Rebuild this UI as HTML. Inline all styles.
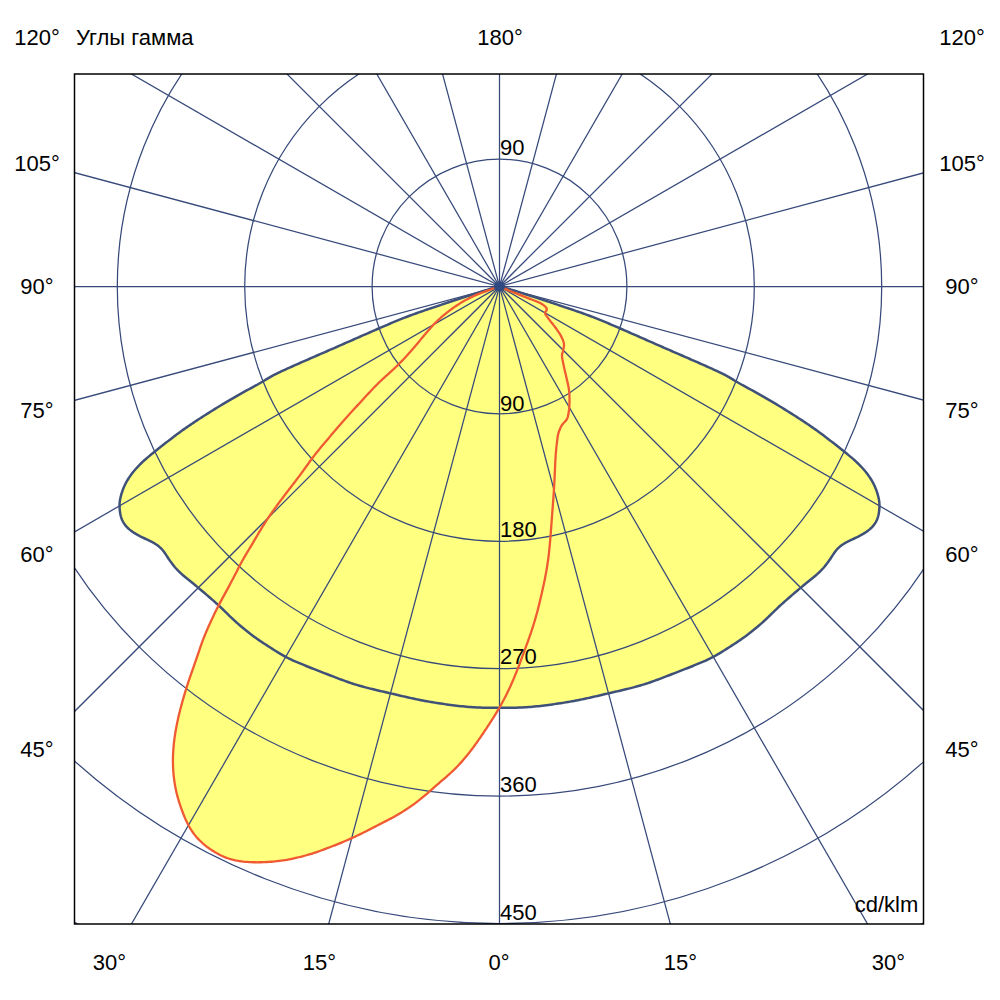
<!DOCTYPE html>
<html><head><meta charset="utf-8"><style>
html,body{margin:0;padding:0;background:#fff;}
svg{display:block;}
text{font-family:"Liberation Sans",sans-serif;font-size:22px;fill:#000;}
</style></head><body>
<svg width="1000" height="1000" viewBox="0 0 1000 1000">
<defs><clipPath id="fr"><rect x="74.5" y="74.0" width="849.0" height="850.0"/></clipPath></defs>
<rect width="1000" height="1000" fill="#fff"/>
<g clip-path="url(#fr)">
<path d="M499.50,286.50L497.50,286.54L495.57,287.04L493.68,287.71L491.79,288.37L489.89,288.99L487.99,289.60L486.08,290.21L484.17,290.81L482.27,291.41L480.36,292.02L478.45,292.63L476.55,293.24L474.64,293.85L472.74,294.46L470.83,295.07L468.93,295.69L467.03,296.30L465.12,296.92L463.22,297.53L461.32,298.15L459.41,298.77L457.51,299.39L455.61,300.01L453.71,300.64L451.81,301.26L449.91,301.89L448.01,302.52L446.11,303.15L444.21,303.78L442.32,304.42L440.42,305.06L438.53,305.70L436.63,306.34L434.73,306.97L432.84,307.61L430.94,308.25L429.04,308.88L427.15,309.52L425.25,310.16L423.36,310.81L421.47,311.46L419.58,312.12L417.69,312.78L415.81,313.46L413.93,314.14L412.05,314.83L410.18,315.54L408.31,316.25L406.44,316.96L404.58,317.69L402.72,318.42L400.86,319.17L399.00,319.91L397.15,320.67L395.30,321.43L393.45,322.20L391.61,322.97L389.76,323.75L387.92,324.53L386.08,325.31L384.24,326.10L382.40,326.89L380.57,327.68L378.73,328.48L376.90,329.27L375.06,330.07L373.23,330.87L371.40,331.68L369.56,332.48L367.73,333.28L365.90,334.09L364.07,334.90L362.24,335.70L360.41,336.51L358.58,337.32L356.75,338.13L354.92,338.93L353.09,339.74L351.26,340.55L349.43,341.36L347.60,342.16L345.76,342.97L343.93,343.77L342.10,344.58L340.27,345.38L338.44,346.18L336.60,346.98L334.77,347.78L332.94,348.58L331.10,349.38L329.27,350.18L327.43,350.98L325.60,351.78L323.76,352.58L321.93,353.38L320.10,354.18L318.26,354.98L316.43,355.77L314.59,356.57L312.76,357.38L310.93,358.18L309.10,358.98L307.26,359.78L305.43,360.58L303.60,361.39L301.77,362.19L299.94,363.00L298.11,363.81L296.28,364.62L294.45,365.43L292.62,366.25L290.80,367.07L288.97,367.89L287.15,368.71L285.33,369.54L283.51,370.38L281.70,371.22L279.89,372.07L278.08,372.93L276.29,373.81L274.50,374.71L272.73,375.64L270.97,376.60L269.24,377.59L267.52,378.62L265.82,379.67L264.12,380.72L262.41,381.76L260.68,382.77L258.95,383.76L257.20,384.73L255.44,385.69L253.69,386.65L251.93,387.61L250.17,388.56L248.41,389.52L246.65,390.47L244.90,391.43L243.15,392.40L241.40,393.37L239.65,394.34L237.91,395.32L236.17,396.31L234.43,397.31L232.70,398.31L230.98,399.32L229.25,400.34L227.53,401.35L225.81,402.38L224.09,403.40L222.38,404.43L220.67,405.47L218.96,406.51L217.25,407.55L215.55,408.60L213.85,409.66L212.15,410.71L210.45,411.78L208.76,412.84L207.07,413.91L205.38,414.98L203.69,416.06L202.01,417.14L200.33,418.23L198.65,419.32L196.98,420.41L195.30,421.51L193.64,422.61L191.97,423.72L190.31,424.84L188.66,425.96L187.01,427.10L185.37,428.24L183.73,429.39L182.10,430.56L180.48,431.73L178.87,432.91L177.26,434.10L175.66,435.30L174.07,436.51L172.47,437.72L170.88,438.93L169.29,440.15L167.71,441.37L166.13,442.60L164.55,443.83L162.98,445.07L161.41,446.31L159.84,447.55L158.28,448.80L156.72,450.05L155.16,451.30L153.60,452.56L152.05,453.82L150.50,455.09L148.96,456.36L147.42,457.64L145.90,458.93L144.39,460.25L142.92,461.60L141.48,462.99L140.06,464.40L138.66,465.83L137.29,467.28L135.94,468.76L134.63,470.27L133.35,471.80L132.11,473.37L130.91,474.97L129.76,476.61L128.65,478.27L127.59,479.97L126.58,481.69L125.63,483.45L124.74,485.24L123.92,487.06L123.16,488.90L122.47,490.78L121.83,492.67L121.25,494.59L120.74,496.52L120.29,498.46L119.93,500.42L119.68,502.40L119.55,504.39L119.54,506.38L119.63,508.37L119.80,510.36L120.05,512.34L120.39,514.31L120.83,516.25L121.40,518.15L122.12,520.00L123.01,521.78L124.04,523.47L125.20,525.08L126.48,526.61L127.86,528.04L129.33,529.39L130.88,530.64L132.50,531.80L134.17,532.90L135.88,533.93L137.61,534.92L139.38,535.86L141.16,536.76L142.96,537.63L144.77,538.50L146.57,539.36L148.38,540.22L150.18,541.09L151.96,541.99L153.72,542.94L155.43,543.97L157.08,545.09L158.66,546.29L160.18,547.59L161.60,548.98L162.92,550.47L164.14,552.04L165.28,553.68L166.37,555.35L167.46,557.02L168.57,558.69L169.70,560.34L170.86,561.97L172.05,563.58L173.27,565.16L174.53,566.71L175.83,568.23L177.18,569.70L178.57,571.13L180.01,572.52L181.49,573.87L182.99,575.19L184.52,576.48L186.06,577.76L187.61,579.02L189.16,580.28L190.72,581.54L192.27,582.80L193.82,584.06L195.37,585.33L196.91,586.60L198.45,587.89L199.98,589.17L201.51,590.47L203.03,591.76L204.55,593.06L206.08,594.36L207.59,595.66L209.11,596.97L210.62,598.28L212.13,599.59L213.63,600.92L215.13,602.24L216.62,603.58L218.10,604.92L219.57,606.28L221.02,607.65L222.47,609.03L223.91,610.42L225.34,611.82L226.77,613.22L228.20,614.62L229.63,616.02L231.07,617.40L232.52,618.78L233.99,620.14L235.47,621.49L236.96,622.82L238.46,624.15L239.97,625.46L241.49,626.76L243.02,628.04L244.57,629.32L246.12,630.57L247.69,631.82L249.26,633.05L250.85,634.26L252.46,635.46L254.07,636.65L255.69,637.81L257.33,638.97L258.97,640.11L260.62,641.23L262.28,642.35L263.95,643.46L265.62,644.56L267.29,645.66L268.97,646.74L270.66,647.82L272.34,648.90L274.04,649.97L275.73,651.02L277.44,652.07L279.15,653.11L280.87,654.13L282.60,655.13L284.34,656.11L286.10,657.07L287.87,657.99L289.66,658.88L291.47,659.74L293.30,660.56L295.13,661.35L296.97,662.13L298.82,662.91L300.66,663.68L302.51,664.45L304.36,665.21L306.21,665.97L308.06,666.73L309.92,667.48L311.77,668.22L313.63,668.96L315.49,669.69L317.36,670.42L319.22,671.15L321.09,671.87L322.96,672.58L324.82,673.30L326.69,674.02L328.56,674.75L330.42,675.47L332.29,676.19L334.15,676.91L336.02,677.63L337.89,678.34L339.76,679.05L341.63,679.75L343.51,680.44L345.39,681.12L347.28,681.79L349.17,682.45L351.06,683.09L352.96,683.72L354.87,684.32L356.78,684.91L358.70,685.48L360.62,686.04L362.55,686.57L364.48,687.10L366.41,687.61L368.35,688.10L370.29,688.59L372.23,689.07L374.18,689.54L376.12,690.00L378.07,690.46L380.02,690.91L381.97,691.37L383.92,691.82L385.87,692.27L387.82,692.72L389.76,693.17L391.71,693.62L393.66,694.08L395.61,694.54L397.55,695.00L399.50,695.46L401.45,695.92L403.40,696.37L405.35,696.82L407.30,697.27L409.25,697.71L411.20,698.14L413.16,698.57L415.11,698.99L417.07,699.40L419.03,699.80L420.99,700.18L422.96,700.56L424.93,700.92L426.89,701.28L428.87,701.62L430.84,701.96L432.81,702.29L434.79,702.61L436.76,702.92L438.74,703.23L440.71,703.54L442.69,703.83L444.67,704.12L446.65,704.40L448.64,704.68L450.62,704.94L452.60,705.20L454.59,705.45L456.57,705.69L458.56,705.92L460.55,706.14L462.54,706.35L464.53,706.55L466.52,706.73L468.51,706.89L470.51,707.05L472.50,707.18L474.50,707.30L476.50,707.41L478.50,707.49L480.50,707.57L482.50,707.63L484.50,707.68L486.50,707.72L488.50,707.75L490.50,707.77L492.50,707.78L494.50,707.79L496.50,707.80L498.50,707.80L500.50,707.80L502.50,707.80L504.50,707.79L506.50,707.78L508.50,707.77L510.50,707.75L512.50,707.72L514.50,707.68L516.50,707.63L518.50,707.57L520.50,707.49L522.50,707.41L524.50,707.30L526.50,707.18L528.49,707.05L530.49,706.89L532.48,706.73L534.47,706.55L536.46,706.35L538.45,706.14L540.44,705.92L542.43,705.69L544.41,705.45L546.40,705.20L548.38,704.94L550.36,704.68L552.35,704.40L554.33,704.12L556.31,703.83L558.29,703.54L560.26,703.23L562.24,702.92L564.21,702.61L566.19,702.29L568.16,701.96L570.13,701.62L572.11,701.28L574.07,700.92L576.04,700.56L578.01,700.18L579.97,699.80L581.93,699.40L583.89,698.99L585.84,698.57L587.80,698.14L589.75,697.71L591.70,697.27L593.65,696.82L595.60,696.37L597.55,695.92L599.50,695.46L601.45,695.00L603.39,694.54L605.34,694.08L607.29,693.62L609.24,693.17L611.18,692.72L613.13,692.27L615.08,691.82L617.03,691.37L618.98,690.91L620.93,690.46L622.88,690.00L624.82,689.54L626.77,689.07L628.71,688.59L630.65,688.10L632.59,687.61L634.52,687.10L636.45,686.57L638.38,686.04L640.30,685.48L642.22,684.91L644.13,684.32L646.04,683.72L647.94,683.09L649.83,682.45L651.72,681.79L653.61,681.12L655.49,680.44L657.37,679.75L659.24,679.05L661.11,678.34L662.98,677.63L664.85,676.91L666.71,676.19L668.58,675.47L670.44,674.75L672.31,674.02L674.18,673.30L676.04,672.58L677.91,671.87L679.78,671.15L681.64,670.42L683.51,669.69L685.37,668.96L687.23,668.22L689.08,667.48L690.94,666.73L692.79,665.97L694.64,665.21L696.49,664.45L698.34,663.68L700.18,662.91L702.03,662.13L703.87,661.35L705.70,660.56L707.53,659.74L709.34,658.88L711.13,657.99L712.90,657.07L714.66,656.11L716.40,655.13L718.13,654.13L719.85,653.11L721.56,652.07L723.27,651.02L724.96,649.97L726.66,648.90L728.34,647.82L730.03,646.74L731.71,645.66L733.38,644.56L735.05,643.46L736.72,642.35L738.38,641.23L740.03,640.11L741.67,638.97L743.31,637.81L744.93,636.65L746.54,635.46L748.15,634.26L749.74,633.05L751.31,631.82L752.88,630.57L754.43,629.32L755.98,628.04L757.51,626.76L759.03,625.46L760.54,624.15L762.04,622.82L763.53,621.49L765.01,620.14L766.48,618.78L767.93,617.40L769.37,616.02L770.80,614.62L772.23,613.22L773.66,611.82L775.09,610.42L776.53,609.03L777.98,607.65L779.43,606.28L780.90,604.92L782.38,603.58L783.87,602.24L785.37,600.92L786.87,599.59L788.38,598.28L789.89,596.97L791.41,595.66L792.92,594.36L794.45,593.06L795.97,591.76L797.49,590.47L799.02,589.17L800.55,587.89L802.09,586.60L803.63,585.33L805.18,584.06L806.73,582.80L808.28,581.54L809.84,580.28L811.39,579.02L812.94,577.76L814.48,576.48L816.01,575.19L817.51,573.87L818.99,572.52L820.43,571.13L821.82,569.70L823.17,568.23L824.47,566.71L825.73,565.16L826.95,563.58L828.14,561.97L829.30,560.34L830.43,558.69L831.54,557.02L832.63,555.35L833.72,553.68L834.86,552.04L836.08,550.47L837.40,548.98L838.82,547.59L840.34,546.29L841.92,545.09L843.57,543.97L845.28,542.94L847.04,541.99L848.82,541.09L850.62,540.22L852.43,539.36L854.23,538.50L856.04,537.63L857.84,536.76L859.62,535.86L861.39,534.92L863.12,533.93L864.83,532.90L866.50,531.80L868.12,530.64L869.67,529.39L871.14,528.04L872.52,526.61L873.80,525.08L874.96,523.47L875.99,521.78L876.88,520.00L877.60,518.15L878.17,516.25L878.61,514.31L878.95,512.34L879.20,510.36L879.37,508.37L879.46,506.38L879.45,504.39L879.32,502.40L879.07,500.42L878.71,498.46L878.26,496.52L877.75,494.59L877.17,492.67L876.53,490.78L875.84,488.90L875.08,487.06L874.26,485.24L873.37,483.45L872.42,481.69L871.41,479.97L870.35,478.27L869.24,476.61L868.09,474.97L866.89,473.37L865.65,471.80L864.37,470.27L863.06,468.76L861.71,467.28L860.34,465.83L858.94,464.40L857.52,462.99L856.08,461.60L854.61,460.25L853.10,458.93L851.58,457.64L850.04,456.36L848.50,455.09L846.95,453.82L845.40,452.56L843.84,451.30L842.28,450.05L840.72,448.80L839.16,447.55L837.59,446.31L836.02,445.07L834.45,443.83L832.87,442.60L831.29,441.37L829.71,440.15L828.12,438.93L826.53,437.72L824.93,436.51L823.34,435.30L821.74,434.10L820.13,432.91L818.52,431.73L816.90,430.56L815.27,429.39L813.63,428.24L811.99,427.10L810.34,425.96L808.69,424.84L807.03,423.72L805.36,422.61L803.70,421.51L802.02,420.41L800.35,419.32L798.67,418.23L796.99,417.14L795.31,416.06L793.62,414.98L791.93,413.91L790.24,412.84L788.55,411.78L786.85,410.71L785.15,409.66L783.45,408.60L781.75,407.55L780.04,406.51L778.33,405.47L776.62,404.43L774.91,403.40L773.19,402.38L771.47,401.35L769.75,400.34L768.02,399.32L766.30,398.31L764.57,397.31L762.83,396.31L761.09,395.32L759.35,394.34L757.60,393.37L755.85,392.40L754.10,391.43L752.35,390.47L750.59,389.52L748.83,388.56L747.07,387.61L745.31,386.65L743.56,385.69L741.80,384.73L740.05,383.76L738.32,382.77L736.59,381.76L734.88,380.72L733.18,379.67L731.48,378.62L729.76,377.59L728.03,376.60L726.27,375.64L724.50,374.71L722.71,373.81L720.92,372.93L719.11,372.07L717.30,371.22L715.49,370.38L713.67,369.54L711.85,368.71L710.03,367.89L708.20,367.07L706.38,366.25L704.55,365.43L702.72,364.62L700.89,363.81L699.06,363.00L697.23,362.19L695.40,361.39L693.57,360.58L691.74,359.78L689.90,358.98L688.07,358.18L686.24,357.38L684.41,356.57L682.57,355.77L680.74,354.98L678.90,354.18L677.07,353.38L675.24,352.58L673.40,351.78L671.57,350.98L669.73,350.18L667.90,349.38L666.06,348.58L664.23,347.78L662.40,346.98L660.56,346.18L658.73,345.38L656.90,344.58L655.07,343.77L653.24,342.97L651.40,342.16L649.57,341.36L647.74,340.55L645.91,339.74L644.08,338.93L642.25,338.13L640.42,337.32L638.59,336.51L636.76,335.70L634.93,334.90L633.10,334.09L631.27,333.28L629.44,332.48L627.60,331.68L625.77,330.87L623.94,330.07L622.10,329.27L620.27,328.48L618.43,327.68L616.60,326.89L614.76,326.10L612.92,325.31L611.08,324.53L609.24,323.75L607.39,322.97L605.55,322.20L603.70,321.43L601.85,320.67L600.00,319.91L598.14,319.17L596.28,318.42L594.42,317.69L592.56,316.96L590.69,316.25L588.82,315.54L586.95,314.83L585.07,314.14L583.19,313.46L581.31,312.78L579.42,312.12L577.53,311.46L575.64,310.81L573.75,310.16L571.85,309.52L569.96,308.88L568.06,308.25L566.16,307.61L564.27,306.97L562.37,306.34L560.47,305.70L558.58,305.06L556.68,304.42L554.79,303.78L552.89,303.15L550.99,302.52L549.09,301.89L547.19,301.26L545.29,300.64L543.39,300.01L541.49,299.39L539.59,298.77L537.68,298.15L535.78,297.53L533.88,296.92L531.97,296.30L530.07,295.69L528.17,295.07L526.26,294.46L524.36,293.85L522.45,293.24L520.55,292.63L518.64,292.02L516.73,291.41L514.83,290.81L512.92,290.21L511.01,289.60L509.11,288.99L507.21,288.37L505.32,287.71L503.43,287.04L501.50,286.54Z" fill="#FFFF80" stroke="none"/>
<path d="M499.50,286.50L497.56,286.97L495.65,287.58L493.77,288.26L491.90,288.98L490.04,289.70L488.17,290.42L486.30,291.12L484.42,291.80L482.54,292.48L480.66,293.17L478.80,293.89L476.95,294.64L475.11,295.43L473.29,296.26L471.49,297.11L469.70,297.99L467.93,298.90L466.17,299.84L464.42,300.80L462.69,301.79L460.98,302.81L459.28,303.86L457.60,304.93L455.94,306.03L454.29,307.16L452.66,308.31L451.04,309.48L449.44,310.68L447.86,311.89L446.29,313.13L444.74,314.38L443.20,315.66L441.69,316.96L440.20,318.29L438.72,319.63L437.27,321.00L435.84,322.39L434.44,323.81L433.05,325.25L431.69,326.70L430.35,328.18L429.02,329.67L427.71,331.18L426.41,332.70L425.12,334.23L423.84,335.76L422.57,337.30L421.30,338.85L420.03,340.39L418.75,341.93L417.48,343.47L416.20,345.01L414.91,346.54L413.62,348.06L412.31,349.58L411.00,351.09L409.68,352.59L408.34,354.07L407.00,355.55L405.64,357.02L404.27,358.48L402.89,359.93L401.50,361.36L400.10,362.78L398.68,364.20L397.26,365.60L395.82,366.99L394.37,368.37L392.92,369.73L391.45,371.09L389.98,372.44L388.50,373.79L387.02,375.13L385.54,376.47L384.06,377.82L382.59,379.17L381.13,380.53L379.68,381.90L378.25,383.29L376.83,384.70L375.43,386.12L374.04,387.55L372.66,388.99L371.28,390.45L369.92,391.91L368.56,393.37L367.20,394.84L365.85,396.31L364.49,397.78L363.14,399.25L361.78,400.73L360.43,402.20L359.07,403.67L357.71,405.13L356.35,406.60L355.00,408.07L353.64,409.54L352.29,411.01L350.93,412.49L349.58,413.96L348.24,415.44L346.90,416.93L345.56,418.42L344.24,419.91L342.91,421.41L341.60,422.92L340.29,424.43L338.98,425.95L337.68,427.47L336.39,428.99L335.09,430.51L333.80,432.04L332.51,433.57L331.21,435.09L329.92,436.62L328.63,438.15L327.34,439.68L326.05,441.20L324.76,442.73L323.47,444.26L322.18,445.79L320.90,447.33L319.63,448.87L318.36,450.41L317.10,451.96L315.85,453.52L314.62,455.10L313.40,456.68L312.20,458.27L311.01,459.88L309.83,461.49L308.66,463.11L307.50,464.74L306.34,466.37L305.18,467.99L304.02,469.62L302.85,471.24L301.67,472.85L300.48,474.46L299.29,476.07L298.08,477.66L296.88,479.26L295.66,480.84L294.45,482.43L293.23,484.02L292.01,485.60L290.79,487.19L289.57,488.77L288.35,490.36L287.13,491.95L285.92,493.54L284.70,495.13L283.50,496.72L282.29,498.32L281.09,499.91L279.89,501.51L278.69,503.12L277.51,504.73L276.33,506.34L275.15,507.96L273.99,509.59L272.83,511.22L271.68,512.85L270.54,514.50L269.41,516.15L268.30,517.81L267.19,519.47L266.09,521.14L265.01,522.82L263.93,524.51L262.87,526.20L261.81,527.90L260.77,529.61L259.73,531.32L258.70,533.03L257.68,534.75L256.66,536.47L255.64,538.19L254.63,539.91L253.62,541.64L252.60,543.36L251.58,545.08L250.56,546.80L249.53,548.51L248.51,550.23L247.48,551.94L246.45,553.65L245.43,555.37L244.42,557.09L243.43,558.82L242.45,560.55L241.49,562.30L240.54,564.06L239.61,565.82L238.69,567.59L237.78,569.37L236.87,571.15L235.96,572.93L235.05,574.71L234.14,576.49L233.22,578.26L232.29,580.04L231.36,581.80L230.42,583.57L229.48,585.34L228.54,587.10L227.59,588.86L226.63,590.62L225.68,592.37L224.72,594.13L223.76,595.88L222.80,597.63L221.84,599.39L220.89,601.15L219.95,602.91L219.01,604.68L218.09,606.45L217.19,608.23L216.29,610.02L215.41,611.81L214.54,613.61L213.68,615.42L212.83,617.22L211.98,619.04L211.14,620.85L210.30,622.67L209.47,624.48L208.65,626.31L207.84,628.13L207.03,629.96L206.24,631.80L205.47,633.64L204.71,635.49L203.97,637.34L203.25,639.21L202.55,641.08L201.86,642.96L201.19,644.84L200.53,646.72L199.88,648.61L199.23,650.51L198.59,652.40L197.94,654.29L197.30,656.18L196.65,658.08L196.00,659.97L195.34,661.86L194.68,663.74L194.02,665.63L193.36,667.52L192.70,669.41L192.04,671.30L191.38,673.18L190.73,675.07L190.08,676.97L189.43,678.86L188.79,680.75L188.16,682.65L187.54,684.55L186.93,686.46L186.33,688.36L185.73,690.27L185.15,692.19L184.57,694.10L184.01,696.02L183.45,697.94L182.90,699.86L182.36,701.79L181.82,703.71L181.30,705.64L180.78,707.57L180.27,709.51L179.78,711.45L179.30,713.39L178.83,715.33L178.38,717.28L177.94,719.23L177.51,721.18L177.10,723.14L176.71,725.10L176.33,727.06L175.97,729.03L175.63,730.99L175.30,732.97L174.99,734.94L174.70,736.92L174.43,738.90L174.18,740.88L173.95,742.86L173.74,744.85L173.55,746.84L173.39,748.83L173.25,750.82L173.14,752.82L173.04,754.81L172.98,756.81L172.94,758.81L172.92,760.80L172.94,762.80L172.98,764.79L173.04,766.79L173.14,768.78L173.26,770.78L173.42,772.77L173.60,774.75L173.80,776.74L174.04,778.72L174.30,780.70L174.59,782.68L174.91,784.65L175.26,786.61L175.64,788.57L176.05,790.52L176.49,792.47L176.96,794.41L177.46,796.34L177.99,798.26L178.55,800.17L179.14,802.08L179.75,803.98L180.39,805.88L181.04,807.76L181.71,809.65L182.40,811.52L183.11,813.39L183.85,815.24L184.61,817.09L185.39,818.92L186.21,820.73L187.07,822.53L187.96,824.30L188.90,826.05L189.88,827.78L190.92,829.47L192.00,831.13L193.13,832.76L194.31,834.34L195.54,835.89L196.83,837.40L198.16,838.87L199.53,840.29L200.95,841.67L202.41,843.01L203.91,844.31L205.45,845.58L207.01,846.80L208.61,847.99L210.23,849.14L211.88,850.25L213.55,851.33L215.25,852.36L216.97,853.36L218.72,854.30L220.48,855.20L222.28,856.04L224.09,856.83L225.93,857.56L227.79,858.23L229.68,858.84L231.58,859.39L233.50,859.88L235.43,860.32L237.38,860.71L239.34,861.04L241.31,861.33L243.28,861.58L245.26,861.78L247.25,861.94L249.24,862.07L251.23,862.17L253.23,862.23L255.22,862.27L257.22,862.28L259.22,862.27L261.21,862.24L263.21,862.18L265.21,862.10L267.20,862.01L269.20,861.89L271.19,861.75L273.18,861.59L275.17,861.41L277.16,861.21L279.14,860.98L281.12,860.72L283.10,860.44L285.07,860.12L287.03,859.78L289.00,859.41L290.95,859.02L292.91,858.61L294.86,858.17L296.80,857.72L298.75,857.25L300.69,856.77L302.62,856.28L304.55,855.76L306.48,855.24L308.40,854.69L310.32,854.12L312.23,853.54L314.13,852.93L316.02,852.30L317.91,851.65L319.79,850.98L321.67,850.29L323.54,849.60L325.41,848.89L327.28,848.18L329.15,847.47L331.01,846.75L332.88,846.03L334.74,845.31L336.60,844.58L338.46,843.84L340.31,843.09L342.16,842.33L344.00,841.56L345.84,840.77L347.67,839.97L349.50,839.16L351.32,838.34L353.14,837.51L354.96,836.67L356.77,835.82L358.58,834.97L360.38,834.10L362.18,833.23L363.97,832.34L365.76,831.45L367.54,830.55L369.32,829.64L371.10,828.72L372.88,827.81L374.65,826.89L376.43,825.97L378.21,825.05L379.98,824.13L381.76,823.22L383.54,822.30L385.32,821.39L387.09,820.47L388.87,819.54L390.63,818.61L392.39,817.66L394.14,816.70L395.88,815.72L397.62,814.73L399.34,813.71L401.05,812.68L402.74,811.62L404.43,810.56L406.11,809.47L407.78,808.37L409.44,807.26L411.09,806.13L412.72,804.98L414.34,803.82L415.95,802.64L417.55,801.44L419.13,800.21L420.69,798.97L422.24,797.71L423.77,796.43L425.29,795.13L426.80,793.82L428.30,792.51L429.80,791.18L431.29,789.86L432.79,788.53L434.29,787.20L435.79,785.88L437.30,784.57L438.81,783.26L440.32,781.96L441.84,780.66L443.36,779.36L444.88,778.06L446.39,776.76L447.90,775.44L449.39,774.12L450.87,772.77L452.33,771.41L453.77,770.04L455.20,768.64L456.60,767.22L457.99,765.78L459.36,764.33L460.70,762.86L462.04,761.37L463.35,759.86L464.64,758.34L465.92,756.81L467.18,755.26L468.43,753.70L469.66,752.12L470.88,750.54L472.09,748.94L473.28,747.34L474.46,745.73L475.63,744.10L476.79,742.48L477.94,740.84L479.09,739.20L480.23,737.56L481.36,735.91L482.48,734.26L483.60,732.60L484.72,730.94L485.83,729.27L486.93,727.61L488.03,725.94L489.12,724.26L490.21,722.58L491.30,720.90L492.37,719.22L493.44,717.53L494.50,715.83L495.55,714.13L496.60,712.42L497.62,710.71L498.64,708.99L499.64,707.26L500.63,705.52L501.61,703.78L502.57,702.02L503.51,700.26L504.44,698.49L505.36,696.72L506.26,694.93L507.14,693.14L508.01,691.34L508.87,689.54L509.72,687.72L510.55,685.91L511.37,684.08L512.17,682.25L512.97,680.42L513.75,678.58L514.53,676.73L515.29,674.89L516.04,673.03L516.79,671.18L517.52,669.32L518.25,667.45L518.97,665.59L519.68,663.72L520.38,661.85L521.08,659.97L521.77,658.10L522.46,656.22L523.15,654.34L523.84,652.46L524.53,650.59L525.22,648.71L525.91,646.83L526.59,644.95L527.28,643.07L527.96,641.19L528.63,639.31L529.30,637.42L529.96,635.54L530.61,633.64L531.25,631.75L531.88,629.85L532.50,627.95L533.10,626.05L533.70,624.14L534.28,622.23L534.86,620.31L535.42,618.39L535.97,616.47L536.51,614.54L537.03,612.61L537.55,610.68L538.05,608.75L538.54,606.81L539.03,604.87L539.50,602.93L539.97,600.98L540.43,599.03L540.89,597.09L541.34,595.14L541.78,593.19L542.23,591.24L542.66,589.29L543.10,587.34L543.52,585.38L543.94,583.43L544.35,581.47L544.75,579.51L545.14,577.55L545.52,575.59L545.89,573.62L546.24,571.65L546.58,569.68L546.91,567.71L547.23,565.74L547.53,563.76L547.82,561.78L548.10,559.80L548.36,557.82L548.61,555.84L548.85,553.85L549.07,551.86L549.28,549.88L549.48,547.89L549.68,545.90L549.86,543.90L550.04,541.91L550.21,539.92L550.38,537.93L550.54,535.93L550.70,533.94L550.85,531.95L551.00,529.95L551.15,527.96L551.30,525.96L551.44,523.97L551.59,521.97L551.73,519.98L551.88,517.98L552.03,515.99L552.18,513.99L552.33,512.00L552.48,510.00L552.63,508.01L552.78,506.01L552.93,504.02L553.08,502.02L553.23,500.03L553.37,498.04L553.51,496.04L553.65,494.04L553.78,492.05L553.91,490.05L554.03,488.06L554.14,486.06L554.26,484.06L554.36,482.07L554.47,480.07L554.57,478.07L554.66,476.07L554.76,474.07L554.84,472.08L554.93,470.08L555.01,468.08L555.10,466.08L555.18,464.08L555.28,462.08L555.38,460.09L555.49,458.09L555.63,456.09L555.77,454.10L555.93,452.11L556.11,450.11L556.30,448.12L556.51,446.13L556.74,444.15L556.98,442.16L557.22,440.17L557.46,438.19L557.75,436.21L558.16,434.25L558.71,432.33L559.37,430.44L560.13,428.59L561.00,426.79L561.97,425.04L563.19,423.46L564.61,422.05L565.98,420.60L567.04,418.91L567.73,417.03L568.21,415.09L568.56,413.12L568.85,411.14L569.10,409.16L569.28,407.17L569.40,405.17L569.47,403.17L569.50,401.17L569.50,399.17L569.47,397.17L569.41,395.17L569.30,393.17L569.13,391.18L568.89,389.20L568.57,387.22L568.17,385.26L567.74,383.31L567.30,381.36L566.87,379.40L566.42,377.45L565.96,375.51L565.50,373.56L565.04,371.62L564.59,369.67L564.15,367.71L563.74,365.76L563.32,363.80L562.92,361.84L562.54,359.88L562.21,357.91L562.00,355.92L562.12,353.93L562.75,352.03L563.19,350.08L563.65,348.13L564.00,346.17L564.02,344.17L563.63,342.21L563.01,340.31L562.23,338.47L561.35,336.67L560.39,334.92L559.35,333.21L558.24,331.55L557.09,329.91L555.93,328.28L554.75,326.66L553.55,325.07L552.31,323.50L551.06,321.93L549.81,320.37L548.58,318.79L547.40,317.18L546.21,315.57L545.21,313.85L545.32,311.94L546.62,310.43L546.82,308.58L545.65,306.97L544.19,305.60L542.59,304.40L540.87,303.38L539.07,302.52L537.23,301.75L535.37,301.00L533.51,300.27L531.64,299.55L529.78,298.81L527.93,298.08L526.07,297.34L524.21,296.61L522.35,295.88L520.48,295.15L518.62,294.42L516.76,293.69L514.90,292.95L513.05,292.20L511.19,291.45L509.34,290.69L507.49,289.94L505.64,289.18L503.80,288.39L502.12,287.34L500.49,286.40Z" fill="#FFFF80" stroke="none"/>
<g fill="none" stroke="#36497A" stroke-width="1.25">
<circle cx="499.50" cy="286.50" r="127.40"/>
<circle cx="499.50" cy="286.50" r="254.80"/>
<circle cx="499.50" cy="286.50" r="382.20"/>
<circle cx="499.50" cy="286.50" r="509.60"/>
<circle cx="499.50" cy="286.50" r="637.00"/>
<circle cx="499.50" cy="286.50" r="764.40"/>
<line x1="-1500.50" y1="286.50" x2="2499.50" y2="286.50"/>
<line x1="-1432.35" y1="-231.14" x2="2431.35" y2="804.14"/>
<line x1="-1232.55" y1="-713.50" x2="2231.55" y2="1286.50"/>
<line x1="-914.71" y1="-1127.71" x2="1913.71" y2="1700.71"/>
<line x1="-500.50" y1="-1445.55" x2="1499.50" y2="2018.55"/>
<line x1="-18.14" y1="-1645.35" x2="1017.14" y2="2218.35"/>
<line x1="499.50" y1="-1713.50" x2="499.50" y2="2286.50"/>
<line x1="1017.14" y1="-1645.35" x2="-18.14" y2="2218.35"/>
<line x1="1499.50" y1="-1445.55" x2="-500.50" y2="2018.55"/>
<line x1="1913.71" y1="-1127.71" x2="-914.71" y2="1700.71"/>
<line x1="2231.55" y1="-713.50" x2="-1232.55" y2="1286.50"/>
<line x1="2431.35" y1="-231.14" x2="-1432.35" y2="804.14"/>
</g>
<path d="M499.50,286.50L497.50,286.54L495.57,287.04L493.68,287.71L491.79,288.37L489.89,288.99L487.99,289.60L486.08,290.21L484.17,290.81L482.27,291.41L480.36,292.02L478.45,292.63L476.55,293.24L474.64,293.85L472.74,294.46L470.83,295.07L468.93,295.69L467.03,296.30L465.12,296.92L463.22,297.53L461.32,298.15L459.41,298.77L457.51,299.39L455.61,300.01L453.71,300.64L451.81,301.26L449.91,301.89L448.01,302.52L446.11,303.15L444.21,303.78L442.32,304.42L440.42,305.06L438.53,305.70L436.63,306.34L434.73,306.97L432.84,307.61L430.94,308.25L429.04,308.88L427.15,309.52L425.25,310.16L423.36,310.81L421.47,311.46L419.58,312.12L417.69,312.78L415.81,313.46L413.93,314.14L412.05,314.83L410.18,315.54L408.31,316.25L406.44,316.96L404.58,317.69L402.72,318.42L400.86,319.17L399.00,319.91L397.15,320.67L395.30,321.43L393.45,322.20L391.61,322.97L389.76,323.75L387.92,324.53L386.08,325.31L384.24,326.10L382.40,326.89L380.57,327.68L378.73,328.48L376.90,329.27L375.06,330.07L373.23,330.87L371.40,331.68L369.56,332.48L367.73,333.28L365.90,334.09L364.07,334.90L362.24,335.70L360.41,336.51L358.58,337.32L356.75,338.13L354.92,338.93L353.09,339.74L351.26,340.55L349.43,341.36L347.60,342.16L345.76,342.97L343.93,343.77L342.10,344.58L340.27,345.38L338.44,346.18L336.60,346.98L334.77,347.78L332.94,348.58L331.10,349.38L329.27,350.18L327.43,350.98L325.60,351.78L323.76,352.58L321.93,353.38L320.10,354.18L318.26,354.98L316.43,355.77L314.59,356.57L312.76,357.38L310.93,358.18L309.10,358.98L307.26,359.78L305.43,360.58L303.60,361.39L301.77,362.19L299.94,363.00L298.11,363.81L296.28,364.62L294.45,365.43L292.62,366.25L290.80,367.07L288.97,367.89L287.15,368.71L285.33,369.54L283.51,370.38L281.70,371.22L279.89,372.07L278.08,372.93L276.29,373.81L274.50,374.71L272.73,375.64L270.97,376.60L269.24,377.59L267.52,378.62L265.82,379.67L264.12,380.72L262.41,381.76L260.68,382.77L258.95,383.76L257.20,384.73L255.44,385.69L253.69,386.65L251.93,387.61L250.17,388.56L248.41,389.52L246.65,390.47L244.90,391.43L243.15,392.40L241.40,393.37L239.65,394.34L237.91,395.32L236.17,396.31L234.43,397.31L232.70,398.31L230.98,399.32L229.25,400.34L227.53,401.35L225.81,402.38L224.09,403.40L222.38,404.43L220.67,405.47L218.96,406.51L217.25,407.55L215.55,408.60L213.85,409.66L212.15,410.71L210.45,411.78L208.76,412.84L207.07,413.91L205.38,414.98L203.69,416.06L202.01,417.14L200.33,418.23L198.65,419.32L196.98,420.41L195.30,421.51L193.64,422.61L191.97,423.72L190.31,424.84L188.66,425.96L187.01,427.10L185.37,428.24L183.73,429.39L182.10,430.56L180.48,431.73L178.87,432.91L177.26,434.10L175.66,435.30L174.07,436.51L172.47,437.72L170.88,438.93L169.29,440.15L167.71,441.37L166.13,442.60L164.55,443.83L162.98,445.07L161.41,446.31L159.84,447.55L158.28,448.80L156.72,450.05L155.16,451.30L153.60,452.56L152.05,453.82L150.50,455.09L148.96,456.36L147.42,457.64L145.90,458.93L144.39,460.25L142.92,461.60L141.48,462.99L140.06,464.40L138.66,465.83L137.29,467.28L135.94,468.76L134.63,470.27L133.35,471.80L132.11,473.37L130.91,474.97L129.76,476.61L128.65,478.27L127.59,479.97L126.58,481.69L125.63,483.45L124.74,485.24L123.92,487.06L123.16,488.90L122.47,490.78L121.83,492.67L121.25,494.59L120.74,496.52L120.29,498.46L119.93,500.42L119.68,502.40L119.55,504.39L119.54,506.38L119.63,508.37L119.80,510.36L120.05,512.34L120.39,514.31L120.83,516.25L121.40,518.15L122.12,520.00L123.01,521.78L124.04,523.47L125.20,525.08L126.48,526.61L127.86,528.04L129.33,529.39L130.88,530.64L132.50,531.80L134.17,532.90L135.88,533.93L137.61,534.92L139.38,535.86L141.16,536.76L142.96,537.63L144.77,538.50L146.57,539.36L148.38,540.22L150.18,541.09L151.96,541.99L153.72,542.94L155.43,543.97L157.08,545.09L158.66,546.29L160.18,547.59L161.60,548.98L162.92,550.47L164.14,552.04L165.28,553.68L166.37,555.35L167.46,557.02L168.57,558.69L169.70,560.34L170.86,561.97L172.05,563.58L173.27,565.16L174.53,566.71L175.83,568.23L177.18,569.70L178.57,571.13L180.01,572.52L181.49,573.87L182.99,575.19L184.52,576.48L186.06,577.76L187.61,579.02L189.16,580.28L190.72,581.54L192.27,582.80L193.82,584.06L195.37,585.33L196.91,586.60L198.45,587.89L199.98,589.17L201.51,590.47L203.03,591.76L204.55,593.06L206.08,594.36L207.59,595.66L209.11,596.97L210.62,598.28L212.13,599.59L213.63,600.92L215.13,602.24L216.62,603.58L218.10,604.92L219.57,606.28L221.02,607.65L222.47,609.03L223.91,610.42L225.34,611.82L226.77,613.22L228.20,614.62L229.63,616.02L231.07,617.40L232.52,618.78L233.99,620.14L235.47,621.49L236.96,622.82L238.46,624.15L239.97,625.46L241.49,626.76L243.02,628.04L244.57,629.32L246.12,630.57L247.69,631.82L249.26,633.05L250.85,634.26L252.46,635.46L254.07,636.65L255.69,637.81L257.33,638.97L258.97,640.11L260.62,641.23L262.28,642.35L263.95,643.46L265.62,644.56L267.29,645.66L268.97,646.74L270.66,647.82L272.34,648.90L274.04,649.97L275.73,651.02L277.44,652.07L279.15,653.11L280.87,654.13L282.60,655.13L284.34,656.11L286.10,657.07L287.87,657.99L289.66,658.88L291.47,659.74L293.30,660.56L295.13,661.35L296.97,662.13L298.82,662.91L300.66,663.68L302.51,664.45L304.36,665.21L306.21,665.97L308.06,666.73L309.92,667.48L311.77,668.22L313.63,668.96L315.49,669.69L317.36,670.42L319.22,671.15L321.09,671.87L322.96,672.58L324.82,673.30L326.69,674.02L328.56,674.75L330.42,675.47L332.29,676.19L334.15,676.91L336.02,677.63L337.89,678.34L339.76,679.05L341.63,679.75L343.51,680.44L345.39,681.12L347.28,681.79L349.17,682.45L351.06,683.09L352.96,683.72L354.87,684.32L356.78,684.91L358.70,685.48L360.62,686.04L362.55,686.57L364.48,687.10L366.41,687.61L368.35,688.10L370.29,688.59L372.23,689.07L374.18,689.54L376.12,690.00L378.07,690.46L380.02,690.91L381.97,691.37L383.92,691.82L385.87,692.27L387.82,692.72L389.76,693.17L391.71,693.62L393.66,694.08L395.61,694.54L397.55,695.00L399.50,695.46L401.45,695.92L403.40,696.37L405.35,696.82L407.30,697.27L409.25,697.71L411.20,698.14L413.16,698.57L415.11,698.99L417.07,699.40L419.03,699.80L420.99,700.18L422.96,700.56L424.93,700.92L426.89,701.28L428.87,701.62L430.84,701.96L432.81,702.29L434.79,702.61L436.76,702.92L438.74,703.23L440.71,703.54L442.69,703.83L444.67,704.12L446.65,704.40L448.64,704.68L450.62,704.94L452.60,705.20L454.59,705.45L456.57,705.69L458.56,705.92L460.55,706.14L462.54,706.35L464.53,706.55L466.52,706.73L468.51,706.89L470.51,707.05L472.50,707.18L474.50,707.30L476.50,707.41L478.50,707.49L480.50,707.57L482.50,707.63L484.50,707.68L486.50,707.72L488.50,707.75L490.50,707.77L492.50,707.78L494.50,707.79L496.50,707.80L498.50,707.80L500.50,707.80L502.50,707.80L504.50,707.79L506.50,707.78L508.50,707.77L510.50,707.75L512.50,707.72L514.50,707.68L516.50,707.63L518.50,707.57L520.50,707.49L522.50,707.41L524.50,707.30L526.50,707.18L528.49,707.05L530.49,706.89L532.48,706.73L534.47,706.55L536.46,706.35L538.45,706.14L540.44,705.92L542.43,705.69L544.41,705.45L546.40,705.20L548.38,704.94L550.36,704.68L552.35,704.40L554.33,704.12L556.31,703.83L558.29,703.54L560.26,703.23L562.24,702.92L564.21,702.61L566.19,702.29L568.16,701.96L570.13,701.62L572.11,701.28L574.07,700.92L576.04,700.56L578.01,700.18L579.97,699.80L581.93,699.40L583.89,698.99L585.84,698.57L587.80,698.14L589.75,697.71L591.70,697.27L593.65,696.82L595.60,696.37L597.55,695.92L599.50,695.46L601.45,695.00L603.39,694.54L605.34,694.08L607.29,693.62L609.24,693.17L611.18,692.72L613.13,692.27L615.08,691.82L617.03,691.37L618.98,690.91L620.93,690.46L622.88,690.00L624.82,689.54L626.77,689.07L628.71,688.59L630.65,688.10L632.59,687.61L634.52,687.10L636.45,686.57L638.38,686.04L640.30,685.48L642.22,684.91L644.13,684.32L646.04,683.72L647.94,683.09L649.83,682.45L651.72,681.79L653.61,681.12L655.49,680.44L657.37,679.75L659.24,679.05L661.11,678.34L662.98,677.63L664.85,676.91L666.71,676.19L668.58,675.47L670.44,674.75L672.31,674.02L674.18,673.30L676.04,672.58L677.91,671.87L679.78,671.15L681.64,670.42L683.51,669.69L685.37,668.96L687.23,668.22L689.08,667.48L690.94,666.73L692.79,665.97L694.64,665.21L696.49,664.45L698.34,663.68L700.18,662.91L702.03,662.13L703.87,661.35L705.70,660.56L707.53,659.74L709.34,658.88L711.13,657.99L712.90,657.07L714.66,656.11L716.40,655.13L718.13,654.13L719.85,653.11L721.56,652.07L723.27,651.02L724.96,649.97L726.66,648.90L728.34,647.82L730.03,646.74L731.71,645.66L733.38,644.56L735.05,643.46L736.72,642.35L738.38,641.23L740.03,640.11L741.67,638.97L743.31,637.81L744.93,636.65L746.54,635.46L748.15,634.26L749.74,633.05L751.31,631.82L752.88,630.57L754.43,629.32L755.98,628.04L757.51,626.76L759.03,625.46L760.54,624.15L762.04,622.82L763.53,621.49L765.01,620.14L766.48,618.78L767.93,617.40L769.37,616.02L770.80,614.62L772.23,613.22L773.66,611.82L775.09,610.42L776.53,609.03L777.98,607.65L779.43,606.28L780.90,604.92L782.38,603.58L783.87,602.24L785.37,600.92L786.87,599.59L788.38,598.28L789.89,596.97L791.41,595.66L792.92,594.36L794.45,593.06L795.97,591.76L797.49,590.47L799.02,589.17L800.55,587.89L802.09,586.60L803.63,585.33L805.18,584.06L806.73,582.80L808.28,581.54L809.84,580.28L811.39,579.02L812.94,577.76L814.48,576.48L816.01,575.19L817.51,573.87L818.99,572.52L820.43,571.13L821.82,569.70L823.17,568.23L824.47,566.71L825.73,565.16L826.95,563.58L828.14,561.97L829.30,560.34L830.43,558.69L831.54,557.02L832.63,555.35L833.72,553.68L834.86,552.04L836.08,550.47L837.40,548.98L838.82,547.59L840.34,546.29L841.92,545.09L843.57,543.97L845.28,542.94L847.04,541.99L848.82,541.09L850.62,540.22L852.43,539.36L854.23,538.50L856.04,537.63L857.84,536.76L859.62,535.86L861.39,534.92L863.12,533.93L864.83,532.90L866.50,531.80L868.12,530.64L869.67,529.39L871.14,528.04L872.52,526.61L873.80,525.08L874.96,523.47L875.99,521.78L876.88,520.00L877.60,518.15L878.17,516.25L878.61,514.31L878.95,512.34L879.20,510.36L879.37,508.37L879.46,506.38L879.45,504.39L879.32,502.40L879.07,500.42L878.71,498.46L878.26,496.52L877.75,494.59L877.17,492.67L876.53,490.78L875.84,488.90L875.08,487.06L874.26,485.24L873.37,483.45L872.42,481.69L871.41,479.97L870.35,478.27L869.24,476.61L868.09,474.97L866.89,473.37L865.65,471.80L864.37,470.27L863.06,468.76L861.71,467.28L860.34,465.83L858.94,464.40L857.52,462.99L856.08,461.60L854.61,460.25L853.10,458.93L851.58,457.64L850.04,456.36L848.50,455.09L846.95,453.82L845.40,452.56L843.84,451.30L842.28,450.05L840.72,448.80L839.16,447.55L837.59,446.31L836.02,445.07L834.45,443.83L832.87,442.60L831.29,441.37L829.71,440.15L828.12,438.93L826.53,437.72L824.93,436.51L823.34,435.30L821.74,434.10L820.13,432.91L818.52,431.73L816.90,430.56L815.27,429.39L813.63,428.24L811.99,427.10L810.34,425.96L808.69,424.84L807.03,423.72L805.36,422.61L803.70,421.51L802.02,420.41L800.35,419.32L798.67,418.23L796.99,417.14L795.31,416.06L793.62,414.98L791.93,413.91L790.24,412.84L788.55,411.78L786.85,410.71L785.15,409.66L783.45,408.60L781.75,407.55L780.04,406.51L778.33,405.47L776.62,404.43L774.91,403.40L773.19,402.38L771.47,401.35L769.75,400.34L768.02,399.32L766.30,398.31L764.57,397.31L762.83,396.31L761.09,395.32L759.35,394.34L757.60,393.37L755.85,392.40L754.10,391.43L752.35,390.47L750.59,389.52L748.83,388.56L747.07,387.61L745.31,386.65L743.56,385.69L741.80,384.73L740.05,383.76L738.32,382.77L736.59,381.76L734.88,380.72L733.18,379.67L731.48,378.62L729.76,377.59L728.03,376.60L726.27,375.64L724.50,374.71L722.71,373.81L720.92,372.93L719.11,372.07L717.30,371.22L715.49,370.38L713.67,369.54L711.85,368.71L710.03,367.89L708.20,367.07L706.38,366.25L704.55,365.43L702.72,364.62L700.89,363.81L699.06,363.00L697.23,362.19L695.40,361.39L693.57,360.58L691.74,359.78L689.90,358.98L688.07,358.18L686.24,357.38L684.41,356.57L682.57,355.77L680.74,354.98L678.90,354.18L677.07,353.38L675.24,352.58L673.40,351.78L671.57,350.98L669.73,350.18L667.90,349.38L666.06,348.58L664.23,347.78L662.40,346.98L660.56,346.18L658.73,345.38L656.90,344.58L655.07,343.77L653.24,342.97L651.40,342.16L649.57,341.36L647.74,340.55L645.91,339.74L644.08,338.93L642.25,338.13L640.42,337.32L638.59,336.51L636.76,335.70L634.93,334.90L633.10,334.09L631.27,333.28L629.44,332.48L627.60,331.68L625.77,330.87L623.94,330.07L622.10,329.27L620.27,328.48L618.43,327.68L616.60,326.89L614.76,326.10L612.92,325.31L611.08,324.53L609.24,323.75L607.39,322.97L605.55,322.20L603.70,321.43L601.85,320.67L600.00,319.91L598.14,319.17L596.28,318.42L594.42,317.69L592.56,316.96L590.69,316.25L588.82,315.54L586.95,314.83L585.07,314.14L583.19,313.46L581.31,312.78L579.42,312.12L577.53,311.46L575.64,310.81L573.75,310.16L571.85,309.52L569.96,308.88L568.06,308.25L566.16,307.61L564.27,306.97L562.37,306.34L560.47,305.70L558.58,305.06L556.68,304.42L554.79,303.78L552.89,303.15L550.99,302.52L549.09,301.89L547.19,301.26L545.29,300.64L543.39,300.01L541.49,299.39L539.59,298.77L537.68,298.15L535.78,297.53L533.88,296.92L531.97,296.30L530.07,295.69L528.17,295.07L526.26,294.46L524.36,293.85L522.45,293.24L520.55,292.63L518.64,292.02L516.73,291.41L514.83,290.81L512.92,290.21L511.01,289.60L509.11,288.99L507.21,288.37L505.32,287.71L503.43,287.04L501.50,286.54Z" fill="none" stroke="#3F5179" stroke-width="2.5" stroke-linejoin="round"/>
<path d="M499.50,286.50L497.56,286.97L495.65,287.58L493.77,288.26L491.90,288.98L490.04,289.70L488.17,290.42L486.30,291.12L484.42,291.80L482.54,292.48L480.66,293.17L478.80,293.89L476.95,294.64L475.11,295.43L473.29,296.26L471.49,297.11L469.70,297.99L467.93,298.90L466.17,299.84L464.42,300.80L462.69,301.79L460.98,302.81L459.28,303.86L457.60,304.93L455.94,306.03L454.29,307.16L452.66,308.31L451.04,309.48L449.44,310.68L447.86,311.89L446.29,313.13L444.74,314.38L443.20,315.66L441.69,316.96L440.20,318.29L438.72,319.63L437.27,321.00L435.84,322.39L434.44,323.81L433.05,325.25L431.69,326.70L430.35,328.18L429.02,329.67L427.71,331.18L426.41,332.70L425.12,334.23L423.84,335.76L422.57,337.30L421.30,338.85L420.03,340.39L418.75,341.93L417.48,343.47L416.20,345.01L414.91,346.54L413.62,348.06L412.31,349.58L411.00,351.09L409.68,352.59L408.34,354.07L407.00,355.55L405.64,357.02L404.27,358.48L402.89,359.93L401.50,361.36L400.10,362.78L398.68,364.20L397.26,365.60L395.82,366.99L394.37,368.37L392.92,369.73L391.45,371.09L389.98,372.44L388.50,373.79L387.02,375.13L385.54,376.47L384.06,377.82L382.59,379.17L381.13,380.53L379.68,381.90L378.25,383.29L376.83,384.70L375.43,386.12L374.04,387.55L372.66,388.99L371.28,390.45L369.92,391.91L368.56,393.37L367.20,394.84L365.85,396.31L364.49,397.78L363.14,399.25L361.78,400.73L360.43,402.20L359.07,403.67L357.71,405.13L356.35,406.60L355.00,408.07L353.64,409.54L352.29,411.01L350.93,412.49L349.58,413.96L348.24,415.44L346.90,416.93L345.56,418.42L344.24,419.91L342.91,421.41L341.60,422.92L340.29,424.43L338.98,425.95L337.68,427.47L336.39,428.99L335.09,430.51L333.80,432.04L332.51,433.57L331.21,435.09L329.92,436.62L328.63,438.15L327.34,439.68L326.05,441.20L324.76,442.73L323.47,444.26L322.18,445.79L320.90,447.33L319.63,448.87L318.36,450.41L317.10,451.96L315.85,453.52L314.62,455.10L313.40,456.68L312.20,458.27L311.01,459.88L309.83,461.49L308.66,463.11L307.50,464.74L306.34,466.37L305.18,467.99L304.02,469.62L302.85,471.24L301.67,472.85L300.48,474.46L299.29,476.07L298.08,477.66L296.88,479.26L295.66,480.84L294.45,482.43L293.23,484.02L292.01,485.60L290.79,487.19L289.57,488.77L288.35,490.36L287.13,491.95L285.92,493.54L284.70,495.13L283.50,496.72L282.29,498.32L281.09,499.91L279.89,501.51L278.69,503.12L277.51,504.73L276.33,506.34L275.15,507.96L273.99,509.59L272.83,511.22L271.68,512.85L270.54,514.50L269.41,516.15L268.30,517.81L267.19,519.47L266.09,521.14L265.01,522.82L263.93,524.51L262.87,526.20L261.81,527.90L260.77,529.61L259.73,531.32L258.70,533.03L257.68,534.75L256.66,536.47L255.64,538.19L254.63,539.91L253.62,541.64L252.60,543.36L251.58,545.08L250.56,546.80L249.53,548.51L248.51,550.23L247.48,551.94L246.45,553.65L245.43,555.37L244.42,557.09L243.43,558.82L242.45,560.55L241.49,562.30L240.54,564.06L239.61,565.82L238.69,567.59L237.78,569.37L236.87,571.15L235.96,572.93L235.05,574.71L234.14,576.49L233.22,578.26L232.29,580.04L231.36,581.80L230.42,583.57L229.48,585.34L228.54,587.10L227.59,588.86L226.63,590.62L225.68,592.37L224.72,594.13L223.76,595.88L222.80,597.63L221.84,599.39L220.89,601.15L219.95,602.91L219.01,604.68L218.09,606.45L217.19,608.23L216.29,610.02L215.41,611.81L214.54,613.61L213.68,615.42L212.83,617.22L211.98,619.04L211.14,620.85L210.30,622.67L209.47,624.48L208.65,626.31L207.84,628.13L207.03,629.96L206.24,631.80L205.47,633.64L204.71,635.49L203.97,637.34L203.25,639.21L202.55,641.08L201.86,642.96L201.19,644.84L200.53,646.72L199.88,648.61L199.23,650.51L198.59,652.40L197.94,654.29L197.30,656.18L196.65,658.08L196.00,659.97L195.34,661.86L194.68,663.74L194.02,665.63L193.36,667.52L192.70,669.41L192.04,671.30L191.38,673.18L190.73,675.07L190.08,676.97L189.43,678.86L188.79,680.75L188.16,682.65L187.54,684.55L186.93,686.46L186.33,688.36L185.73,690.27L185.15,692.19L184.57,694.10L184.01,696.02L183.45,697.94L182.90,699.86L182.36,701.79L181.82,703.71L181.30,705.64L180.78,707.57L180.27,709.51L179.78,711.45L179.30,713.39L178.83,715.33L178.38,717.28L177.94,719.23L177.51,721.18L177.10,723.14L176.71,725.10L176.33,727.06L175.97,729.03L175.63,730.99L175.30,732.97L174.99,734.94L174.70,736.92L174.43,738.90L174.18,740.88L173.95,742.86L173.74,744.85L173.55,746.84L173.39,748.83L173.25,750.82L173.14,752.82L173.04,754.81L172.98,756.81L172.94,758.81L172.92,760.80L172.94,762.80L172.98,764.79L173.04,766.79L173.14,768.78L173.26,770.78L173.42,772.77L173.60,774.75L173.80,776.74L174.04,778.72L174.30,780.70L174.59,782.68L174.91,784.65L175.26,786.61L175.64,788.57L176.05,790.52L176.49,792.47L176.96,794.41L177.46,796.34L177.99,798.26L178.55,800.17L179.14,802.08L179.75,803.98L180.39,805.88L181.04,807.76L181.71,809.65L182.40,811.52L183.11,813.39L183.85,815.24L184.61,817.09L185.39,818.92L186.21,820.73L187.07,822.53L187.96,824.30L188.90,826.05L189.88,827.78L190.92,829.47L192.00,831.13L193.13,832.76L194.31,834.34L195.54,835.89L196.83,837.40L198.16,838.87L199.53,840.29L200.95,841.67L202.41,843.01L203.91,844.31L205.45,845.58L207.01,846.80L208.61,847.99L210.23,849.14L211.88,850.25L213.55,851.33L215.25,852.36L216.97,853.36L218.72,854.30L220.48,855.20L222.28,856.04L224.09,856.83L225.93,857.56L227.79,858.23L229.68,858.84L231.58,859.39L233.50,859.88L235.43,860.32L237.38,860.71L239.34,861.04L241.31,861.33L243.28,861.58L245.26,861.78L247.25,861.94L249.24,862.07L251.23,862.17L253.23,862.23L255.22,862.27L257.22,862.28L259.22,862.27L261.21,862.24L263.21,862.18L265.21,862.10L267.20,862.01L269.20,861.89L271.19,861.75L273.18,861.59L275.17,861.41L277.16,861.21L279.14,860.98L281.12,860.72L283.10,860.44L285.07,860.12L287.03,859.78L289.00,859.41L290.95,859.02L292.91,858.61L294.86,858.17L296.80,857.72L298.75,857.25L300.69,856.77L302.62,856.28L304.55,855.76L306.48,855.24L308.40,854.69L310.32,854.12L312.23,853.54L314.13,852.93L316.02,852.30L317.91,851.65L319.79,850.98L321.67,850.29L323.54,849.60L325.41,848.89L327.28,848.18L329.15,847.47L331.01,846.75L332.88,846.03L334.74,845.31L336.60,844.58L338.46,843.84L340.31,843.09L342.16,842.33L344.00,841.56L345.84,840.77L347.67,839.97L349.50,839.16L351.32,838.34L353.14,837.51L354.96,836.67L356.77,835.82L358.58,834.97L360.38,834.10L362.18,833.23L363.97,832.34L365.76,831.45L367.54,830.55L369.32,829.64L371.10,828.72L372.88,827.81L374.65,826.89L376.43,825.97L378.21,825.05L379.98,824.13L381.76,823.22L383.54,822.30L385.32,821.39L387.09,820.47L388.87,819.54L390.63,818.61L392.39,817.66L394.14,816.70L395.88,815.72L397.62,814.73L399.34,813.71L401.05,812.68L402.74,811.62L404.43,810.56L406.11,809.47L407.78,808.37L409.44,807.26L411.09,806.13L412.72,804.98L414.34,803.82L415.95,802.64L417.55,801.44L419.13,800.21L420.69,798.97L422.24,797.71L423.77,796.43L425.29,795.13L426.80,793.82L428.30,792.51L429.80,791.18L431.29,789.86L432.79,788.53L434.29,787.20L435.79,785.88L437.30,784.57L438.81,783.26L440.32,781.96L441.84,780.66L443.36,779.36L444.88,778.06L446.39,776.76L447.90,775.44L449.39,774.12L450.87,772.77L452.33,771.41L453.77,770.04L455.20,768.64L456.60,767.22L457.99,765.78L459.36,764.33L460.70,762.86L462.04,761.37L463.35,759.86L464.64,758.34L465.92,756.81L467.18,755.26L468.43,753.70L469.66,752.12L470.88,750.54L472.09,748.94L473.28,747.34L474.46,745.73L475.63,744.10L476.79,742.48L477.94,740.84L479.09,739.20L480.23,737.56L481.36,735.91L482.48,734.26L483.60,732.60L484.72,730.94L485.83,729.27L486.93,727.61L488.03,725.94L489.12,724.26L490.21,722.58L491.30,720.90L492.37,719.22L493.44,717.53L494.50,715.83L495.55,714.13L496.60,712.42L497.62,710.71L498.64,708.99L499.64,707.26L500.63,705.52L501.61,703.78L502.57,702.02L503.51,700.26L504.44,698.49L505.36,696.72L506.26,694.93L507.14,693.14L508.01,691.34L508.87,689.54L509.72,687.72L510.55,685.91L511.37,684.08L512.17,682.25L512.97,680.42L513.75,678.58L514.53,676.73L515.29,674.89L516.04,673.03L516.79,671.18L517.52,669.32L518.25,667.45L518.97,665.59L519.68,663.72L520.38,661.85L521.08,659.97L521.77,658.10L522.46,656.22L523.15,654.34L523.84,652.46L524.53,650.59L525.22,648.71L525.91,646.83L526.59,644.95L527.28,643.07L527.96,641.19L528.63,639.31L529.30,637.42L529.96,635.54L530.61,633.64L531.25,631.75L531.88,629.85L532.50,627.95L533.10,626.05L533.70,624.14L534.28,622.23L534.86,620.31L535.42,618.39L535.97,616.47L536.51,614.54L537.03,612.61L537.55,610.68L538.05,608.75L538.54,606.81L539.03,604.87L539.50,602.93L539.97,600.98L540.43,599.03L540.89,597.09L541.34,595.14L541.78,593.19L542.23,591.24L542.66,589.29L543.10,587.34L543.52,585.38L543.94,583.43L544.35,581.47L544.75,579.51L545.14,577.55L545.52,575.59L545.89,573.62L546.24,571.65L546.58,569.68L546.91,567.71L547.23,565.74L547.53,563.76L547.82,561.78L548.10,559.80L548.36,557.82L548.61,555.84L548.85,553.85L549.07,551.86L549.28,549.88L549.48,547.89L549.68,545.90L549.86,543.90L550.04,541.91L550.21,539.92L550.38,537.93L550.54,535.93L550.70,533.94L550.85,531.95L551.00,529.95L551.15,527.96L551.30,525.96L551.44,523.97L551.59,521.97L551.73,519.98L551.88,517.98L552.03,515.99L552.18,513.99L552.33,512.00L552.48,510.00L552.63,508.01L552.78,506.01L552.93,504.02L553.08,502.02L553.23,500.03L553.37,498.04L553.51,496.04L553.65,494.04L553.78,492.05L553.91,490.05L554.03,488.06L554.14,486.06L554.26,484.06L554.36,482.07L554.47,480.07L554.57,478.07L554.66,476.07L554.76,474.07L554.84,472.08L554.93,470.08L555.01,468.08L555.10,466.08L555.18,464.08L555.28,462.08L555.38,460.09L555.49,458.09L555.63,456.09L555.77,454.10L555.93,452.11L556.11,450.11L556.30,448.12L556.51,446.13L556.74,444.15L556.98,442.16L557.22,440.17L557.46,438.19L557.75,436.21L558.16,434.25L558.71,432.33L559.37,430.44L560.13,428.59L561.00,426.79L561.97,425.04L563.19,423.46L564.61,422.05L565.98,420.60L567.04,418.91L567.73,417.03L568.21,415.09L568.56,413.12L568.85,411.14L569.10,409.16L569.28,407.17L569.40,405.17L569.47,403.17L569.50,401.17L569.50,399.17L569.47,397.17L569.41,395.17L569.30,393.17L569.13,391.18L568.89,389.20L568.57,387.22L568.17,385.26L567.74,383.31L567.30,381.36L566.87,379.40L566.42,377.45L565.96,375.51L565.50,373.56L565.04,371.62L564.59,369.67L564.15,367.71L563.74,365.76L563.32,363.80L562.92,361.84L562.54,359.88L562.21,357.91L562.00,355.92L562.12,353.93L562.75,352.03L563.19,350.08L563.65,348.13L564.00,346.17L564.02,344.17L563.63,342.21L563.01,340.31L562.23,338.47L561.35,336.67L560.39,334.92L559.35,333.21L558.24,331.55L557.09,329.91L555.93,328.28L554.75,326.66L553.55,325.07L552.31,323.50L551.06,321.93L549.81,320.37L548.58,318.79L547.40,317.18L546.21,315.57L545.21,313.85L545.32,311.94L546.62,310.43L546.82,308.58L545.65,306.97L544.19,305.60L542.59,304.40L540.87,303.38L539.07,302.52L537.23,301.75L535.37,301.00L533.51,300.27L531.64,299.55L529.78,298.81L527.93,298.08L526.07,297.34L524.21,296.61L522.35,295.88L520.48,295.15L518.62,294.42L516.76,293.69L514.90,292.95L513.05,292.20L511.19,291.45L509.34,290.69L507.49,289.94L505.64,289.18L503.80,288.39L502.12,287.34L500.49,286.40Z" fill="none" stroke="#EF5A32" stroke-width="2.3" stroke-linejoin="round"/>
<ellipse cx="499.5" cy="286.5" rx="5.5" ry="5" fill="#2F4A80"/>
<g><text x="500.0" y="155.0" text-anchor="start">90</text><text x="500.0" y="410.5" text-anchor="start">90</text><text x="500.0" y="537.0" text-anchor="start">180</text><text x="500.0" y="664.0" text-anchor="start">270</text><text x="500.0" y="791.5" text-anchor="start">360</text><text x="500.0" y="920.0" text-anchor="start">450</text><text x="918.3" y="912.0" text-anchor="end">cd/klm</text></g>
</g>
<rect x="74.5" y="74.0" width="849.0" height="850.0" fill="none" stroke="#000" stroke-width="1.5"/>
<text x="37.0" y="45.0" text-anchor="middle">120°</text><text x="76.0" y="45.0" text-anchor="start">Углы гамма</text><text x="500.0" y="45.0" text-anchor="middle">180°</text><text x="962.0" y="45.0" text-anchor="middle">120°</text><text x="37.0" y="170.5" text-anchor="middle">105°</text><text x="962.0" y="170.5" text-anchor="middle">105°</text><text x="37.0" y="293.8" text-anchor="middle">90°</text><text x="962.0" y="293.8" text-anchor="middle">90°</text><text x="37.0" y="418.2" text-anchor="middle">75°</text><text x="962.0" y="418.2" text-anchor="middle">75°</text><text x="37.0" y="562.0" text-anchor="middle">60°</text><text x="962.0" y="562.0" text-anchor="middle">60°</text><text x="37.0" y="757.3" text-anchor="middle">45°</text><text x="962.0" y="757.3" text-anchor="middle">45°</text><text x="109.5" y="970.0" text-anchor="middle">30°</text><text x="319.5" y="970.0" text-anchor="middle">15°</text><text x="499.0" y="970.0" text-anchor="middle">0°</text><text x="680.5" y="970.0" text-anchor="middle">15°</text><text x="888.5" y="970.0" text-anchor="middle">30°</text>
</svg>
</body></html>
